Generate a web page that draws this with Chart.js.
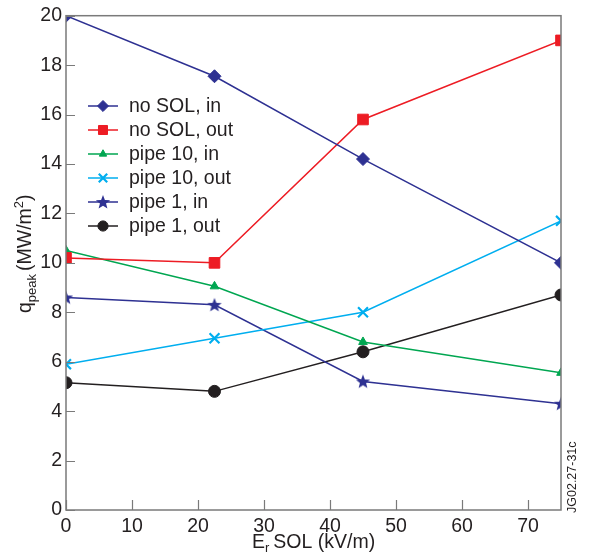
<!DOCTYPE html>
<html>
<head>
<meta charset="utf-8">
<script src="https://cdn.jsdelivr.net/npm/chart.js@4.4.1/dist/chart.umd.min.js"></script>
<style>
  html, body { margin: 0; padding: 0; background: #fff; }
  #wrap { width: 590px; height: 555px; }
</style>
</head>
<body>
<div id="wrap"><canvas id="myCanvas" width="590" height="555"></canvas></div>
<script>
// field values (kV/m)
var erSol = [0, 22.5, 45, 75];
// q_peak values (MW/m2)
var noSolIn = [20, 17.55, 14.2, 10];
var noSolOut = [10.2, 10.0, 15.8, 19.0];
var pipe10In = [10.5, 9.05, 6.8, 5.55];
var pipe10Out = [5.9, 6.95, 8.0, 11.7];
var pipe1In = [8.6, 8.3, 5.2, 4.3];
var pipe1Out = [5.15, 4.8, 6.4, 8.7];
var seriesNames = ['no SOL, in', 'no SOL, out', 'pipe 10, in', 'pipe 10, out', 'pipe 1, in', 'pipe 1, out'];
var xTicks = [0, 10, 20, 30, 40, 50, 60, 70];
var yTicks = [0, 2, 4, 6, 8, 10, 12, 14, 16, 18, 20];

var FONT = '"Liberation Sans", Arial, Helvetica, sans-serif';
var FS = 19.5;
var TXT = '#231f20';
var FRAME = '#7a7a7a';

function starImage(color) {
    var c = document.createElement('canvas');
    c.width = 16; c.height = 16;
    var g = c.getContext('2d');
    g.fillStyle = color;
    g.beginPath();
    for (var i = 0; i < 10; i++) {
        var r = i % 2 === 0 ? 7.5 : 3.2;
        var a = -Math.PI / 2 + i * Math.PI / 5;
        var px = 8 + r * Math.cos(a), py = 8.5 + r * Math.sin(a);
        if (i === 0) g.moveTo(px, py); else g.lineTo(px, py);
    }
    g.closePath();
    g.fill();
    return c;
}

function pts(vals) {
    return vals.map(function (v, i) { return {x: erSol[i], y: v}; });
}

function ds(label, vals, color, style, radius, extra) {
    var d = {
        label: label,
        data: pts(vals),
        borderColor: color,
        backgroundColor: color,
        pointBackgroundColor: color,
        pointBorderColor: color,
        borderWidth: 1.5,
        pointStyle: style,
        pointRadius: radius,
        pointBorderWidth: 1,
        tension: 0
    };
    for (var k in extra) d[k] = extra[k];
    return d;
}

var chartdata = {
    datasets: [
        ds(seriesNames[0], noSolIn, '#2e3192', 'rectRot', 6.5, {}),
        ds(seriesNames[1], noSolOut, '#ed1c24', 'rect', 7.5, {}),
        ds(seriesNames[2], pipe10In, '#00a651', 'triangle', 5, {}),
        ds(seriesNames[3], pipe10Out, '#00aeef', 'crossRot', 7, {pointBorderWidth: 2.2}),
        ds(seriesNames[4], pipe1In, '#2e3192', starImage('#2e3192'), 8, {}),
        ds(seriesNames[5], pipe1Out, '#231f20', 'circle', 6, {})
    ]
};

// markers at the plot edges are cut by the frame, as in the original
var clipper = {
    id: 'clipper',
    beforeDatasetsDraw: function (chart) {
        var a = chart.chartArea, c = chart.ctx;
        c.save();
        c.beginPath();
        c.rect(a.left, a.top, a.right - a.left, a.bottom - a.top);
        c.clip();
    },
    afterDatasetsDraw: function (chart) {
        chart.ctx.restore();
    }
};

var decor = {
    id: 'decor',
    afterDraw: function (chart) {
        var ctx = chart.ctx, a = chart.chartArea;
        var xs = chart.scales.x, ys = chart.scales.y;
        ctx.save();
        // frame
        ctx.strokeStyle = FRAME;
        ctx.lineWidth = 1.5;
        ctx.strokeRect(a.left, a.top, a.right - a.left, a.bottom - a.top);
        // inward ticks
        ctx.lineWidth = 1.2;
        ctx.beginPath();
        xTicks.forEach(function (v) {
            var px = Math.round(xs.getPixelForValue(v)) + 0.5;
            ctx.moveTo(px, a.bottom); ctx.lineTo(px, a.bottom - 10);
        });
        yTicks.forEach(function (v) {
            var py = Math.round(ys.getPixelForValue(v)) + 0.5;
            ctx.moveTo(a.left, py); ctx.lineTo(a.left + 9, py);
        });
        ctx.stroke();

        // legend
        ctx.textBaseline = 'middle';
        ctx.textAlign = 'left';
        chart.data.datasets.forEach(function (d, i) {
            var y = 106 + i * 24;
            ctx.strokeStyle = d.borderColor;
            ctx.lineWidth = 1.5;
            ctx.beginPath();
            ctx.moveTo(88, y); ctx.lineTo(118, y);
            ctx.stroke();
            ctx.fillStyle = d.pointBackgroundColor;
            ctx.strokeStyle = d.pointBorderColor;
            ctx.lineWidth = d.pointBorderWidth;
            Chart.helpers.drawPoint(ctx, {pointStyle: d.pointStyle, radius: d.pointRadius * 0.85, rotation: 0, borderWidth: d.pointBorderWidth}, 103, y);
            ctx.fillStyle = TXT;
            ctx.font = FS + 'px ' + FONT;
            ctx.fillText(d.label, 129, y + 1);
        });

        // x title: E_r SOL (kV/m)
        ctx.fillStyle = TXT;
        ctx.textBaseline = 'alphabetic';
        var bx = 252, by = 548;
        ctx.font = FS + 'px ' + FONT;
        ctx.fillText('E', bx, by);
        var w = ctx.measureText('E').width;
        ctx.font = '13px ' + FONT;
        ctx.fillText('r', bx + w, by + 4);
        w += ctx.measureText('r').width + 4;
        ctx.font = FS + 'px ' + FONT;
        ctx.fillText('SOL (kV/m)', bx + w, by);

        // y title: q_peak (MW/m^2)
        ctx.save();
        ctx.translate(31, 313);
        ctx.rotate(-Math.PI / 2);
        var cx = 0;
        ctx.font = FS + 'px ' + FONT;
        ctx.fillText('q', cx, 0); cx += ctx.measureText('q').width;
        ctx.font = '13px ' + FONT;
        ctx.fillText('peak', cx, 5); cx += ctx.measureText('peak').width + 3;
        ctx.font = FS + 'px ' + FONT;
        ctx.fillText('(MW/m', cx, 0); cx += ctx.measureText('(MW/m').width;
        ctx.font = '13px ' + FONT;
        ctx.fillText('2', cx, -8); cx += ctx.measureText('2').width;
        ctx.font = FS + 'px ' + FONT;
        ctx.fillText(')', cx, 0);
        ctx.restore();

        // figure id
        ctx.save();
        ctx.translate(576, 513);
        ctx.rotate(-Math.PI / 2);
        ctx.font = '12.5px ' + FONT;
        ctx.fillStyle = TXT;
        ctx.fillText('JG02.27-31c', 0, 0);
        ctx.restore();
        ctx.restore();
    }
};

var ctx = document.getElementById('myCanvas');
var lineGraph = new Chart(ctx, {
    type: 'line',
    data: chartdata,
    options: {
        responsive: false,
        animation: false,
        devicePixelRatio: 1,
        layout: {padding: {top: 15, right: 29, left: 0, bottom: 0}},
        plugins: {legend: {display: false}, tooltip: {enabled: false}},
        scales: {
            x: {
                type: 'linear',
                min: 0, max: 75,
                afterFit: function (s) { s.height = 45; },
                afterBuildTicks: function (s) { s.ticks = xTicks.map(function (v) { return {value: v}; }); },
                grid: {display: false, drawTicks: false},
                border: {display: false},
                ticks: {color: TXT, padding: 5, maxRotation: 0, font: {family: FONT, size: FS}}
            },
            y: {
                min: 0, max: 20,
                afterFit: function (s) { s.width = 66; },
                afterBuildTicks: function (s) { s.ticks = yTicks.map(function (v) { return {value: v}; }); },
                grid: {display: false, drawTicks: false},
                border: {display: false},
                ticks: {color: TXT, padding: 4, font: {family: FONT, size: FS}}
            }
        }
    },
    plugins: [clipper, decor]
});
</script>
</body>
</html>
